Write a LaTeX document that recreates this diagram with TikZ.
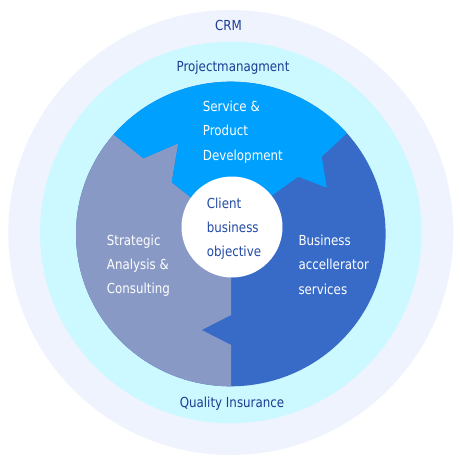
\documentclass[tikz,border=0pt]{standalone}
\usepackage{fontspec}
\setmainfont{DejaVu Sans}[FakeStretch=0.86]
\definecolor{ringout}{HTML}{EFF3FE}
\definecolor{ringin}{HTML}{CCF8FF}
\definecolor{segtop}{HTML}{00A0FF}
\definecolor{segleft}{HTML}{8899C5}
\definecolor{segright}{HTML}{386BC8}
\definecolor{ringtext}{HTML}{1C3D92}
\definecolor{centertext}{HTML}{2149A6}
\tikzset{
  txt/.style={inner sep=0pt, align=left, font=\fontsize{13.8}{24.3}\selectfont},
  ringlabel/.style={txt, text=ringtext, anchor=base},
  seglabel/.style={txt, text=white, anchor=base west},
  centerlabel/.style={txt, text=centertext, anchor=base west}
}
\begin{document}
\begin{tikzpicture}[x=1pt,y=-1pt]
\useasboundingbox (0,0) rectangle (459,463);
\fill[white] (0,0) rectangle (459,463);
\fill[ringout] (230.8,232.5) circle [radius=222.5];
\fill[ringin] (230.8,232.5) circle [radius=190.8];
\begin{scope}
  \clip (230.8,234) ellipse [x radius=154.8, y radius=152.3];
  \fill[segright] (0,0) rectangle (459,463);
  \fill[segleft] (0,40) -- (56,88.4) -- (114.3,135) -- (143.3,158.3) -- (178.3,143.3)
    -- (171.7,182.3) -- (208,211) -- (231,230) -- (231,315) -- (201.7,330) -- (231,345)
    -- (231,463) -- (0,463) -- cycle;
  \fill[segtop] (0,40) -- (56,88.4) -- (114.3,135) -- (143.3,158.3) -- (178.3,143.3)
    -- (171.7,182.3) -- (208,211) -- (231,230) -- (255,207.5) -- (275,193.3)
    -- (298.3,176.7) -- (326.7,187.7) -- (321.7,156.7) -- (345,135) -- (391.6,91.6)
    -- (459,40) -- (459,0) -- (0,0) -- cycle;
\end{scope}
\fill[white] (232,227) circle [radius=50.5];
\node[ringlabel] (crm) at (228.5,30) {CRM};
\node[ringlabel] (pm) at (233,71.7) {Projectmanagment};
\node[ringlabel] (qi) at (232,407) {Quality Insurance};
\node[seglabel] (spd) at (202.7,160.1) {Service \&\\Product\\Development};
\node[seglabel] (sac) at (106.7,293.6) {Strategic\\Analysis \&\\Consulting};
\node[seglabel] (bas) at (298.3,294.1) {Business\\accellerator\\services};
\node[centerlabel] (cbo) at (206.7,256.6) {Client\\business\\objective};
\end{tikzpicture}
\end{document}
